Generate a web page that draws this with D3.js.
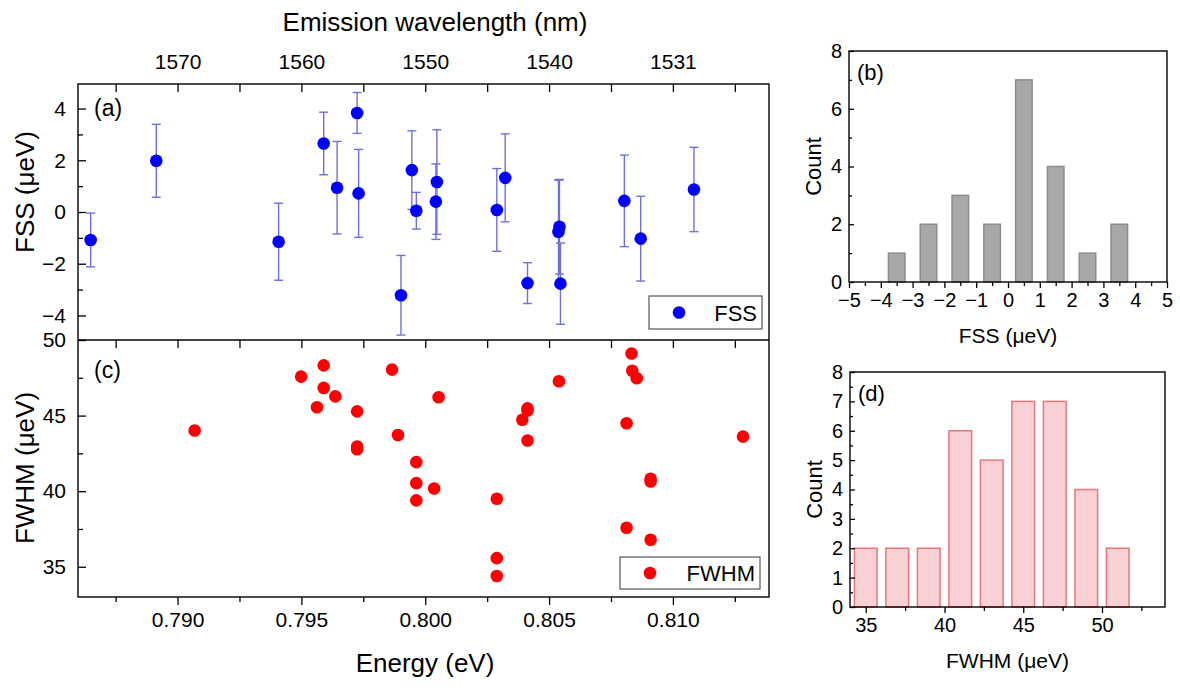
<!DOCTYPE html>
<html>
<head>
<meta charset="utf-8">
<script src="https://cdn.jsdelivr.net/npm/d3@7"></script>
<style>
  body { margin: 0; background: #fff; }
  svg text { font-family: "Liberation Sans", Arial, sans-serif; fill: #000; }
</style>
</head>
<body>
<div id="chart"></div>
<script>
// data
// (a) FSS vs energy, with error bars
const energyA = [0.78649, 0.78914, 0.79408, 0.79590, 0.79644, 0.79725, 0.79731, 0.79902, 0.79946, 0.79964,
                 0.80047, 0.80043, 0.80289, 0.80323, 0.80413, 0.80542, 0.80538, 0.80546, 0.80804, 0.80870, 0.81085]
const fss = [-1.08, 1.98, -1.15, 2.65, 0.94, 3.83, 0.72, -3.22, 1.62, 0.05,
             1.16, 0.40, 0.08, 1.32, -2.75, -0.57, -0.77, -2.77, 0.43, -1.03, 0.87]
const fssErr = [1.04, 1.41, 1.49, 1.21, 1.79, 0.79, 1.70, 1.54, 1.52, 0.71,
                2.02, 1.46, 1.60, 1.70, 0.79, 1.83, 2.00, 1.57, 1.77, 1.64, 1.63]

// (c) FWHM vs energy
const energyC = [0.79069, 0.79499, 0.79590, 0.79590, 0.79637, 0.79563, 0.79725, 0.79725, 0.79725, 0.79866,
                 0.79890, 0.79964, 0.79964, 0.79964, 0.80054, 0.80036, 0.80289, 0.80289, 0.80289, 0.80413,
                 0.80413, 0.80392, 0.80413, 0.80540, 0.80718, 0.80833, 0.80836, 0.80854, 0.80813, 0.80813,
                 0.80910, 0.80910, 0.80910, 0.81283]
const fwhm = [44.01, 47.58, 48.32, 46.83, 46.27, 45.55, 45.28, 42.95, 42.77, 48.04,
              43.72, 41.92, 40.53, 39.39, 46.21, 40.18, 39.50, 35.57, 34.39, 45.48,
              45.33, 44.72, 43.35, 47.27, 50.40, 49.11, 47.97, 47.47, 44.49, 37.58,
              40.82, 40.64, 36.79, 43.61]

// shared energy axis, top axis labels (wavelength in nm at the same ticks)
const energyTicks = [0.790, 0.795, 0.800, 0.805, 0.810]
const wavelengthLabels = ["1570", "1560", "1550", "1540", "1531"]

// (b) FSS histogram
const fssBins = [-3.5, -2.5, -1.5, -0.5, 0.5, 1.5, 2.5, 3.5]
const fssCounts = [1, 2, 3, 2, 7, 4, 1, 2]

// (d) FWHM histogram
const fwhmBins = [35, 37, 39, 41, 43, 45, 47, 49, 51]
const fwhmCounts = [2, 2, 2, 6, 5, 7, 7, 4, 2]

// layout
const W = 1180, H = 688
const left = {x0: 78, x1: 769, aTop: 84, mid: 340, cBot: 597}
const pb = {x0: 849, x1: 1167, y0: 51, y1: 282}
const pd = {x0: 850, x1: 1165, y0: 372, y1: 607}

const svg = d3.select("#chart").append("svg")
  .attr("width", W)
  .attr("height", H)

const defs = svg.append("defs")
defs.append("clipPath").attr("id", "clipA").append("rect")
  .attr("x", left.x0).attr("y", left.aTop)
  .attr("width", left.x1 - left.x0).attr("height", left.mid - left.aTop)
defs.append("clipPath").attr("id", "clipC").append("rect")
  .attr("x", left.x0).attr("y", left.mid)
  .attr("width", left.x1 - left.x0).attr("height", left.cBot - left.mid)

// scales
const xE = d3.scaleLinear().domain([0.78598, 0.81388]).range([left.x0, left.x1])
const yA = d3.scaleLinear().domain([-4.95, 4.95]).range([left.mid, left.aTop])
const yC = d3.scaleLinear().domain([33, 50]).range([left.cBot, left.mid])

const minorE = d3.range(0.7875, 0.8130, 0.005)

function styleAxis(g) {
  g.select(".domain").remove()
  g.selectAll("line").attr("stroke", "#000").attr("stroke-width", 1.3)
  g.selectAll("text").attr("fill", "#000")
}

// ---- (a) FSS ----
const gA = svg.append("g").attr("clip-path", "url(#clipA)")

const errColor = "#6f6fe0"
gA.selectAll(".err").data(energyA).enter().append("line")
  .attr("x1", d => xE(d)).attr("x2", d => xE(d))
  .attr("y1", (d, i) => yA(fss[i] + fssErr[i]))
  .attr("y2", (d, i) => yA(fss[i] - fssErr[i]))
  .attr("stroke", errColor).attr("stroke-width", 1.4)
;[1, -1].forEach(s => {
  gA.selectAll(".cap" + s).data(energyA).enter().append("line")
    .attr("x1", d => xE(d) - 4.5).attr("x2", d => xE(d) + 4.5)
    .attr("y1", (d, i) => yA(fss[i] + s * fssErr[i]))
    .attr("y2", (d, i) => yA(fss[i] + s * fssErr[i]))
    .attr("stroke", errColor).attr("stroke-width", 1.4)
})
gA.selectAll(".dot").data(energyA).enter().append("circle")
  .attr("cx", d => xE(d))
  .attr("cy", (d, i) => yA(fss[i]))
  .attr("r", 6.3)
  .attr("fill", "#0000ff")

// ---- (c) FWHM ----
const gC = svg.append("g").attr("clip-path", "url(#clipC)")
gC.selectAll(".dot").data(energyC).enter().append("circle")
  .attr("cx", d => xE(d))
  .attr("cy", (d, i) => yC(fwhm[i]))
  .attr("r", 6.3)
  .attr("fill", "#ff0000")

// frames
svg.append("rect")
  .attr("x", left.x0).attr("y", left.aTop)
  .attr("width", left.x1 - left.x0).attr("height", left.cBot - left.aTop)
  .attr("fill", "none").attr("stroke", "#000").attr("stroke-width", 1.4)
svg.append("line")
  .attr("x1", left.x0).attr("x2", left.x1)
  .attr("y1", left.mid).attr("y2", left.mid)
  .attr("stroke", "#000").attr("stroke-width", 1.4)

// left axes (inward ticks)
svg.append("g").attr("transform", `translate(${left.x0},0)`)
  .call(d3.axisLeft(yA).tickValues([-4, -2, 0, 2, 4]).tickSizeInner(-8).tickSizeOuter(0).tickPadding(12))
  .call(styleAxis)
  .selectAll("text").style("font-size", "21px")
svg.append("g").attr("transform", `translate(${left.x0},0)`)
  .call(d3.axisLeft(yA).tickValues([-3, -1, 1, 3]).tickSizeInner(-5).tickSizeOuter(0).tickFormat(""))
  .call(styleAxis)

svg.append("g").attr("transform", `translate(${left.x0},0)`)
  .call(d3.axisLeft(yC).tickValues([35, 40, 45, 50]).tickSizeInner(-8).tickSizeOuter(0).tickPadding(12))
  .call(styleAxis)
  .selectAll("text").style("font-size", "21px")
svg.append("g").attr("transform", `translate(${left.x0},0)`)
  .call(d3.axisLeft(yC).tickValues([37.5, 42.5, 47.5]).tickSizeInner(-5).tickSizeOuter(0).tickFormat(""))
  .call(styleAxis)

// top wavelength axis, ticks pointing into (a)
svg.append("g").attr("transform", `translate(0,${left.aTop})`)
  .call(d3.axisTop(xE).tickValues(energyTicks).tickSizeInner(-8).tickSizeOuter(0).tickPadding(15)
    .tickFormat((d, i) => wavelengthLabels[i]))
  .call(styleAxis)
  .selectAll("text").style("font-size", "21px")
svg.append("g").attr("transform", `translate(0,${left.aTop})`)
  .call(d3.axisTop(xE).tickValues(minorE).tickSizeInner(-8).tickSizeOuter(0).tickFormat(""))
  .call(styleAxis)

// ticks at the top of (c)
svg.append("g").attr("transform", `translate(0,${left.mid})`)
  .call(d3.axisTop(xE).tickValues(energyTicks.concat(minorE)).tickSizeInner(-8).tickSizeOuter(0).tickFormat(""))
  .call(styleAxis)

// bottom energy axis, outward ticks
svg.append("g").attr("transform", `translate(0,${left.cBot})`)
  .call(d3.axisBottom(xE).tickValues(energyTicks).tickSizeInner(8).tickSizeOuter(0).tickPadding(7)
    .tickFormat(d3.format(".3f")))
  .call(styleAxis)
  .selectAll("text").style("font-size", "21px")
svg.append("g").attr("transform", `translate(0,${left.cBot})`)
  .call(d3.axisBottom(xE).tickValues(minorE).tickSizeInner(5).tickSizeOuter(0).tickFormat(""))
  .call(styleAxis)

// titles
svg.append("text").attr("x", 435).attr("y", 31)
  .attr("text-anchor", "middle").style("font-size", "26px").text("Emission wavelength (nm)")
svg.append("text").attr("x", 425).attr("y", 672)
  .attr("text-anchor", "middle").style("font-size", "26px").text("Energy (eV)")
svg.append("text").attr("transform", "translate(34,192) rotate(-90)")
  .attr("text-anchor", "middle").style("font-size", "26px").text("FSS (μeV)")
svg.append("text").attr("transform", "translate(34,468) rotate(-90)")
  .attr("text-anchor", "middle").style("font-size", "26px").text("FWHM (μeV)")
svg.append("text").attr("x", 94).attr("y", 116).style("font-size", "23px").text("(a)")
svg.append("text").attr("x", 94).attr("y", 378).style("font-size", "23px").text("(c)")

// legends
function legend(x, y, w, h, color, label) {
  svg.append("rect").attr("x", x).attr("y", y).attr("width", w).attr("height", h)
    .attr("fill", "#fff").attr("stroke", "#555").attr("stroke-width", 1.2)
  svg.append("circle").attr("cx", x + 30).attr("cy", y + h / 2).attr("r", 6.3).attr("fill", color)
  svg.append("text").attr("x", x + w - 5).attr("y", y + h / 2 + 8)
    .attr("text-anchor", "end").style("font-size", "22px").text(label)
}
legend(649, 296, 113, 33, "#0000ff", "FSS")
legend(620, 557, 140, 32, "#ff0000", "FWHM")

// ---- histograms ----
function histogram(p, xDomain, majorX, minorX, majorY, minorY, bins, counts, barW, fill, stroke, xTitle, tag) {
  const x = d3.scaleLinear().domain(xDomain).range([p.x0, p.x1])
  const y = d3.scaleLinear().domain([0, 8]).range([p.y1, p.y0])

  svg.append("g").selectAll("rect").data(bins).enter().append("rect")
    .attr("x", d => x(d - barW / 2))
    .attr("width", x(barW) - x(0))
    .attr("y", (d, i) => y(counts[i]))
    .attr("height", (d, i) => y(0) - y(counts[i]))
    .attr("fill", fill).attr("stroke", stroke).attr("stroke-width", 1.5)

  svg.append("rect").attr("x", p.x0).attr("y", p.y0)
    .attr("width", p.x1 - p.x0).attr("height", p.y1 - p.y0)
    .attr("fill", "none").attr("stroke", "#000").attr("stroke-width", 1.4)

  svg.append("g").attr("transform", `translate(0,${p.y1})`)
    .call(d3.axisBottom(x).tickValues(majorX).tickSizeInner(6).tickSizeOuter(0).tickPadding(5))
    .call(styleAxis)
    .selectAll("text").style("font-size", "20px")
  svg.append("g").attr("transform", `translate(0,${p.y1})`)
    .call(d3.axisBottom(x).tickValues(minorX).tickSizeInner(4).tickSizeOuter(0).tickFormat(""))
    .call(styleAxis)
  svg.append("g").attr("transform", `translate(${p.x0},0)`)
    .call(d3.axisLeft(y).tickValues(majorY).tickSizeInner(-5).tickSizeOuter(0).tickPadding(7))
    .call(styleAxis)
    .selectAll("text").style("font-size", "20px")
  svg.append("g").attr("transform", `translate(${p.x0},0)`)
    .call(d3.axisLeft(y).tickValues(minorY).tickSizeInner(-3).tickSizeOuter(0).tickFormat(""))
    .call(styleAxis)

  svg.append("text").attr("x", (p.x0 + p.x1) / 2).attr("y", p.y1 + 61)
    .attr("text-anchor", "middle").style("font-size", "21px").text(xTitle)
  svg.append("text").attr("transform", `translate(${p.x0 - 28},${(p.y0 + p.y1) / 2}) rotate(-90)`)
    .attr("text-anchor", "middle").style("font-size", "22px").text("Count")
  svg.append("text").attr("x", p.x0 + 8).attr("y", p.y0 + 29).style("font-size", "22px").text(tag)
}

histogram(pb, [-5, 5], d3.range(-5, 6, 1), d3.range(-4.5, 5, 1), [0, 2, 4, 6, 8], [1, 3, 5, 7],
  fssBins, fssCounts, 0.52, "#a8a8a8", "#8c8c8c", "FSS (μeV)", "(b)")
histogram(pd, [34, 54], [35, 40, 45, 50], [37.5, 42.5, 47.5, 52.5], d3.range(0, 9, 1), d3.range(0.5, 8, 1),
  fwhmBins, fwhmCounts, 1.44, "#f9d0d3", "#e8777c", "FWHM (μeV)", "(d)")
</script>
</body>
</html>
